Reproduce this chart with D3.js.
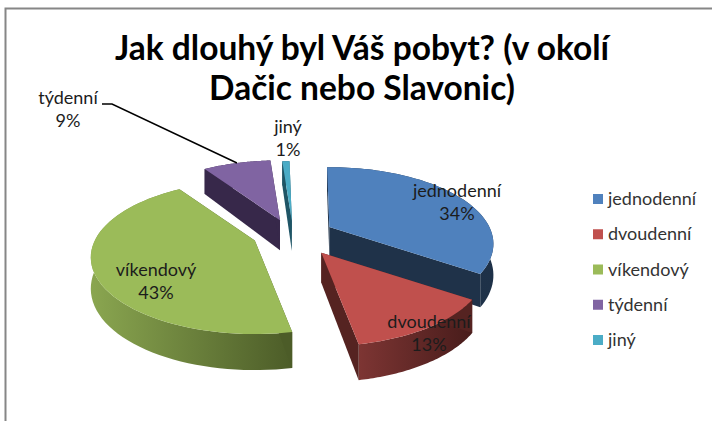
<!DOCTYPE html>
<html lang="cs">
<head>
    <meta charset="UTF-8">
    <title>Jak dlouhý byl Váš pobyt?</title>
    <script src="https://d3js.org/d3.v7.min.js"></script>
    <style>
        html, body { margin: 0; padding: 0; background: #fff; }
        svg { display: block; }
        text { font-family: Lato, "Open Sans", sans-serif; fill: #1c1c1c; }
        .title { font-size: 33.5px; font-weight: 700; fill: #000; text-anchor: middle; }
        .label { font-size: 18px; text-anchor: middle; }
        .legend { font-size: 18px; fill: #333; }
    </style>
</head>
<body>
    <svg width="712" height="421"></svg>
    <script>
        // chart data
        var categories = ["jednodenní", "dvoudenní", "víkendový", "týdenní", "jiný"];
        var shares = [34, 13, 43, 9, 1];
        var titleLines = ["Jak dlouhý byl Váš pobyt? (v okolí", "Dačic nebo Slavonic)"];

        // colours: top face, rim light end, rim dark end, wall
        var topColors = ["#4f81bd", "#c0504d", "#9bbb59", "#8064a2", "#4bacc6"];
        var rimLight = ["#203550", "#7d3533", "#8aa650", "#37284a", "#1f5566"];
        var rimDark = ["#1e3148", "#481c1b", "#4c5c28", "#37284a", "#1f5566"];
        var wallColors = ["#1f3249", "#552321", "#4c5c28", "#37284a", "#1f5566"];

        var svg = d3.select("svg");

        // frame
        svg.append("path")
            .attr("d", "M5.5,421V8.5H712")
            .attr("fill", "none")
            .attr("stroke", "#868686")
            .attr("stroke-width", 2);

        svg.selectAll(".title")
            .data(titleLines)
            .enter().append("text")
            .attr("class", "title")
            .attr("x", 362)
            .attr("y", function (d, i) { return 60 + i * 40; })
            .text(function (d) { return d; });

        // 3d pie set up
        var cx = 293, cy = 236, rx = 160, ry = 73, depth = 30, persp = 0.22;
        var explodeX = 42, explodeY = 18, warp = -0.06;
        // small per slice shifts, the explosion in the original is not quite even
        var nudgeX = [0, 4, 0, 2, 1], nudgeY = [0, 2, -3, 1, 3];

        var pie = d3.pie().sort(null).startAngle(-0.02).endAngle(2 * Math.PI - 0.02);
        var arcs = pie(shares);

        // angle goes clockwise from the top, r 0..1, z = 0 top face, 1 bottom face
        function project(a, r, z, off) {
            var b = a + warp * Math.sin(2 * a);
            var X = Math.sin(b) * r, Y = -Math.cos(b) * r;
            var s = 1 / (1 - persp * Y);
            return [
                cx + off[0] + rx * X * s,
                cy + off[1] + ry * Y * s + z * depth * (1 + 0.2 * Y)
            ];
        }

        var line = d3.line();
        var defs = svg.append("defs");

        // back slices first, the blue slice sits behind the red one
        var order = [3, 4, 2, 0, 1];

        order.forEach(function (i) {
            var d = arcs[i];
            var mid = (d.startAngle + d.endAngle) / 2;
            var off = [explodeX * Math.sin(mid) + nudgeX[i], -explodeY * Math.cos(mid) + nudgeY[i]];
            var g = svg.append("g");

            var angles = d3.range(0, 61).map(function (k) {
                return d.startAngle + (d.endAngle - d.startAngle) * k / 60;
            });
            var topRim = angles.map(function (a) { return project(a, 1, 0, off); });
            var botRim = angles.map(function (a) { return project(a, 1, 1, off); });
            var apex = project(0, 0, 0, off), apexB = project(0, 0, 1, off);

            var xs = d3.extent(topRim, function (p) { return p[0]; });
            var grad = defs.append("linearGradient")
                .attr("id", "rim" + i)
                .attr("gradientUnits", "userSpaceOnUse")
                .attr("x1", xs[0]).attr("x2", xs[1])
                .attr("y1", 0).attr("y2", 0);
            grad.append("stop").attr("offset", 0).attr("stop-color", rimLight[i]);
            grad.append("stop").attr("offset", 1).attr("stop-color", rimDark[i]);

            // rim
            g.append("path")
                .attr("d", line(topRim.concat(botRim.slice().reverse())) + "Z")
                .attr("fill", "url(#rim" + i + ")");

            // radial walls
            [topRim[0], topRim[60]].forEach(function (p, k) {
                var b = k == 0 ? botRim[0] : botRim[60];
                g.append("path")
                    .attr("d", line([apex, p, b, apexB]) + "Z")
                    .attr("fill", wallColors[i]);
            });

            // top face
            g.append("path")
                .attr("d", line([apex].concat(topRim)) + "Z")
                .attr("fill", topColors[i]);
        });

        // leader line for the týdenní label
        svg.append("path")
            .attr("d", "M102,104H112L237,163")
            .attr("fill", "none")
            .attr("stroke", "#000")
            .attr("stroke-width", 1.5);

        // data labels
        var labelX = [457, 429, 156, 68, 288];
        var labelY = [197, 328, 276, 104, 133];
        categories.forEach(function (c, i) {
            svg.append("text").attr("class", "label")
                .attr("x", labelX[i]).attr("y", labelY[i]).text(c);
            svg.append("text").attr("class", "label")
                .attr("x", labelX[i]).attr("y", labelY[i] + 23).text(shares[i] + "%");
        });

        // legend
        var legendY = d3.scalePoint().domain(categories).range([199, 340]);
        var legend = svg.selectAll(".entry")
            .data(categories)
            .enter().append("g")
            .attr("class", "entry")
            .attr("transform", function (d) { return "translate(593," + legendY(d) + ")"; });
        legend.append("rect")
            .attr("y", -5).attr("width", 10).attr("height", 10)
            .attr("fill", function (d, i) { return topColors[i]; });
        legend.append("text")
            .attr("class", "legend")
            .attr("x", 15).attr("y", 6)
            .text(function (d) { return d; });
    </script>
</body>
</html>
